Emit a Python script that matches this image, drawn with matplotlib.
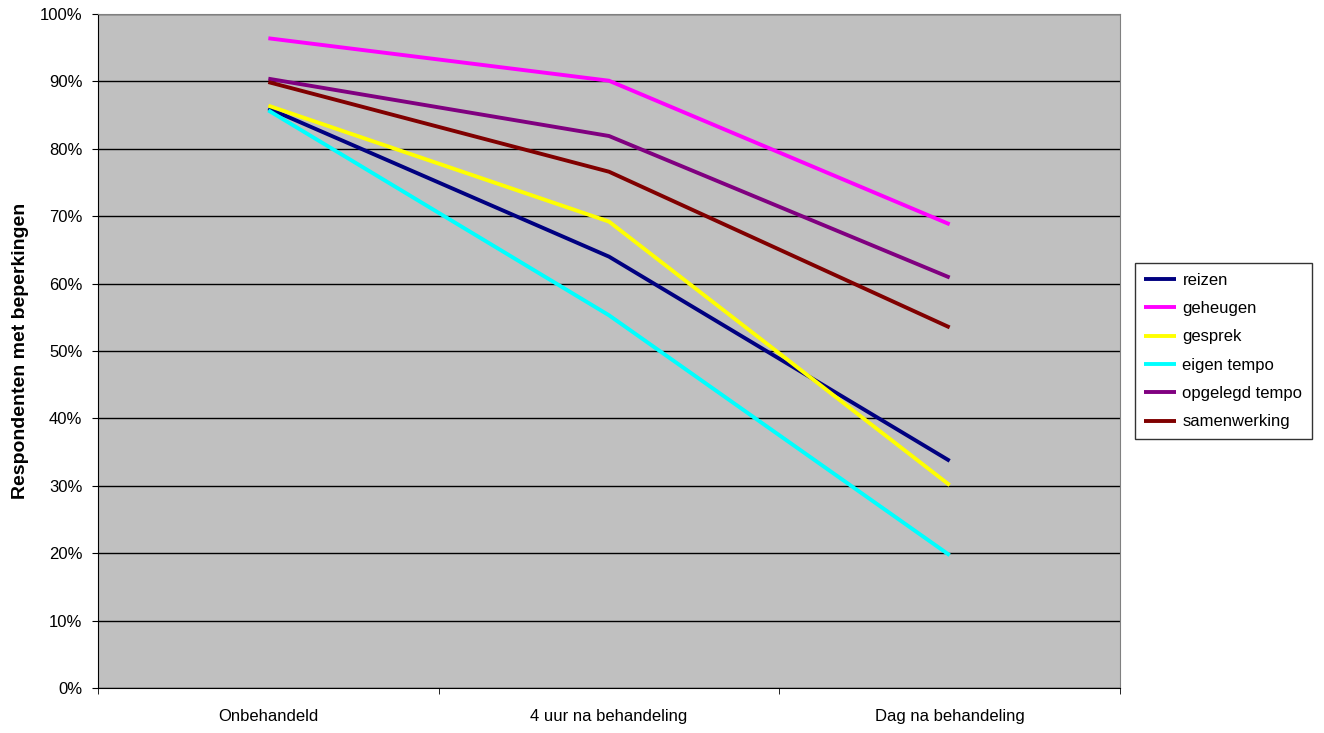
import matplotlib.pyplot as plt
from matplotlib.ticker import FixedLocator, PercentFormatter

plt.rcParams['font.family'] = ['Liberation Sans', 'DejaVu Sans']

categories = ['Onbehandeld', '4 uur na behandeling', 'Dag na behandeling']
series_names = ['reizen', 'geheugen', 'gesprek', 'eigen tempo', 'opgelegd tempo', 'samenwerking']
reizen = [86.0, 64.0, 33.7]
geheugen = [96.4, 90.1, 68.8]
gesprek = [86.4, 69.2, 30.1]
eigen_tempo = [85.7, 55.3, 19.7]
opgelegd_tempo = [90.4, 81.9, 60.9]
samenwerking = [89.9, 76.6, 53.5]
colors = ['#000080', '#FF00FF', '#FFFF00', '#00FFFF', '#800080', '#800000']

fig = plt.figure(figsize=(13.24, 7.33), dpi=100)
ax = fig.add_axes([98 / 1324, 1 - 688 / 733, (1120 - 98) / 1324, (688 - 14) / 733])
ax.set_facecolor('#C0C0C0')

x = range(len(categories))
all_series = [reizen, geheugen, gesprek, eigen_tempo, opgelegd_tempo, samenwerking]
for name, vals, c in zip(series_names, all_series, colors):
    ax.plot(x, vals, color=c, linewidth=2.8, label=name, solid_capstyle='butt')

ax.set_xlim(-0.5, 2.5)
ax.set_ylim(0, 100)
ax.set_yticks(range(0, 101, 10))
ax.yaxis.set_major_formatter(PercentFormatter(decimals=0))
ax.yaxis.grid(True, color='black', linewidth=1)
ax.set_axisbelow(True)

ax.set_xticks(list(x))
ax.set_xticklabels(categories)
ax.xaxis.set_minor_locator(FixedLocator([-0.5, 0.5, 1.5, 2.5]))
ax.tick_params(axis='x', which='major', length=0, pad=15, labelsize=12)
ax.tick_params(axis='x', which='minor', length=4.3, direction='out')
ax.tick_params(axis='y', length=4.3, pad=7, labelsize=12)

for s in ['top', 'right']:
    ax.spines[s].set_color('#808080')
for s in ['left', 'bottom']:
    ax.spines[s].set_color('black')

ax.set_ylabel('Respondenten met beperkingen', fontsize=14, fontweight='bold', labelpad=8)

leg = ax.legend(loc='center left', bbox_to_anchor=(1135 / 1324, 1 - 351 / 733), bbox_transform=fig.transFigure,
                fontsize=12, frameon=True, fancybox=False, handlelength=1.9, borderpad=0.55,
                labelspacing=0.8, handletextpad=0.4, borderaxespad=0)
leg.get_frame().set_edgecolor('black')
leg.get_frame().set_linewidth(1)

fig.savefig('out.png', dpi=100)
